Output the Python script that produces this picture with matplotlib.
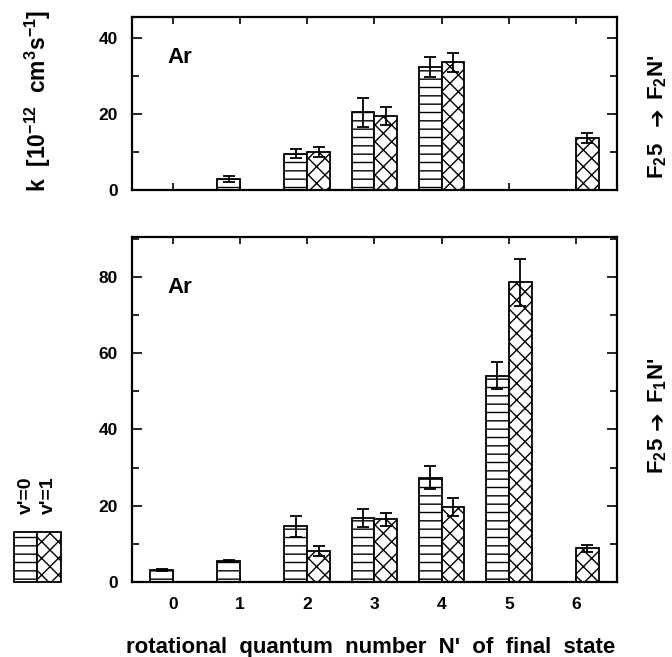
import numpy as np
import matplotlib
matplotlib.use("Agg")
import matplotlib.pyplot as plt
from matplotlib.patches import Rectangle
from matplotlib.ticker import MultipleLocator

plt.rcParams['font.family'] = ['Liberation Sans', 'DejaVu Sans']
plt.rcParams['font.weight'] = 'bold'
plt.rcParams['mathtext.fontset'] = 'custom'
plt.rcParams['mathtext.rm'] = 'Liberation Sans:bold'
plt.rcParams['mathtext.it'] = 'Liberation Sans:bold'
plt.rcParams['mathtext.bf'] = 'Liberation Sans:bold'
plt.rcParams['hatch.linewidth'] = 1.0

# rotational quantum number N' of final state
N = np.arange(7)

# F2 5 -> F2 N'   (upper panel)
top_v0 = [np.nan, 2.9, 9.6, 20.4, 32.3, np.nan, np.nan]
top_v0_err = [np.nan, 0.7, 1.2, 3.9, 2.6, np.nan, np.nan]
top_v1 = [np.nan, np.nan, 10.0, 19.5, 33.6, np.nan, 13.7]
top_v1_err = [np.nan, np.nan, 1.4, 2.4, 2.5, np.nan, 1.3]

# F2 5 -> F1 N'   (lower panel)
bot_v0 = [3.1, 5.5, 14.6, 16.8, 27.4, 54.1, np.nan]
bot_v0_err = [0.3, 0.3, 2.8, 2.4, 3.1, 3.6, np.nan]
bot_v1 = [np.nan, np.nan, 8.1, 16.4, 19.6, 78.6, 8.8]
bot_v1_err = [np.nan, np.nan, 1.3, 1.7, 2.4, 6.2, 1.0]

W = 0.34


def draw_bars(ax, x, vals, errs, hatch):
    vals = np.asarray(vals)
    errs = np.asarray(errs)
    ok = ~np.isnan(vals)
    ax.bar(x[ok], vals[ok], width=W, align='center', facecolor='white',
           edgecolor='black', linewidth=1.3, hatch=hatch, zorder=2)
    ax.errorbar(x[ok], vals[ok], yerr=errs[ok], fmt='none', ecolor='black',
                elinewidth=1.3, capsize=4.5, capthick=1.3, zorder=3)


def style_axes(ax, ytop, ymajor):
    ax.set_xlim(-0.61, 6.61)
    ax.set_ylim(0, ytop)
    ax.set_xticks(N)
    ax.yaxis.set_major_locator(MultipleLocator(ymajor))
    ax.yaxis.set_minor_locator(MultipleLocator(10))
    ax.tick_params(axis='x', direction='in', top=True, bottom=True,
                   length=5, width=1.2, labelsize=12.5, pad=11)
    ax.tick_params(axis='y', which='major', direction='in', left=True,
                   right=True, length=7, width=1.2, labelsize=12.5, pad=10)
    ax.tick_params(axis='y', which='minor', direction='in', left=True,
                   right=True, length=5, width=1.2)
    for s in ax.spines.values():
        s.set_linewidth(1.6)


def side_label(parts, ys):
    # rotated right-hand label "F25 -> F N'", built piece by piece
    for txt, y in zip(parts, ys):
        if txt == '➔':
            fig.text(0.979, 1 - y / 657, txt, rotation=90, ha='center',
                     va='center', fontsize=16, family='DejaVu Sans')
        else:
            fig.text(0.979, 1 - y / 657, txt, rotation=90, ha='center',
                     va='center', fontsize=16)


fig = plt.figure(figsize=(6.72, 6.57), dpi=100)
ax1 = fig.add_axes([0.1964, 0.7108, 0.7217, 0.2633])
ax2 = fig.add_axes([0.1964, 0.1142, 0.7217, 0.5251])

draw_bars(ax1, N - W / 2, top_v0, top_v0_err, '--')
draw_bars(ax1, N + W / 2, top_v1, top_v1_err, 'xx')
style_axes(ax1, 45.5, 20)
ax1.set_xticklabels([])

draw_bars(ax2, N - W / 2, bot_v0, bot_v0_err, '--')
draw_bars(ax2, N + W / 2, bot_v1, bot_v1_err, 'xx')
style_axes(ax2, 90.5, 20)

ax1.text(0.074, 0.734, 'Ar', transform=ax1.transAxes, fontsize=16)
ax2.text(0.074, 0.838, 'Ar', transform=ax2.transAxes, fontsize=16)

fig.text(0.057, 0.846, r'k  [10$^{-12}$  cm$^{3}$s$^{-1}$]', rotation=90,
         ha='center', va='center', fontsize=16.5)
side_label(['F$_{2}$5', '➔', "F$_{2}$N'"], [161, 117, 77])
side_label(['F$_{2}$5', '➔', "F$_{1}$N'"], [456, 421, 380])
fig.text(0.551, 1 - 648 / 657, "rotational  quantum  number  N'  of  final  state",
         ha='center', va='center', fontsize=16)

# legend boxes at the lower left
fig.patches.append(Rectangle((14 / 672, 1 - 582 / 657), 23 / 672, 50 / 657,
                             transform=fig.transFigure, facecolor='white',
                             edgecolor='black', linewidth=1.3, hatch='--'))
fig.patches.append(Rectangle((37 / 672, 1 - 582 / 657), 24 / 672, 50 / 657,
                             transform=fig.transFigure, facecolor='white',
                             edgecolor='black', linewidth=1.3, hatch='xx'))
fig.text(26 / 672, 1 - 495 / 657, "v'=0", rotation=90, ha='center',
         va='center', fontsize=14)
fig.text(48 / 672, 1 - 495 / 657, "v'=1", rotation=90, ha='center',
         va='center', fontsize=14)

fig.savefig('out.png', dpi=100)
